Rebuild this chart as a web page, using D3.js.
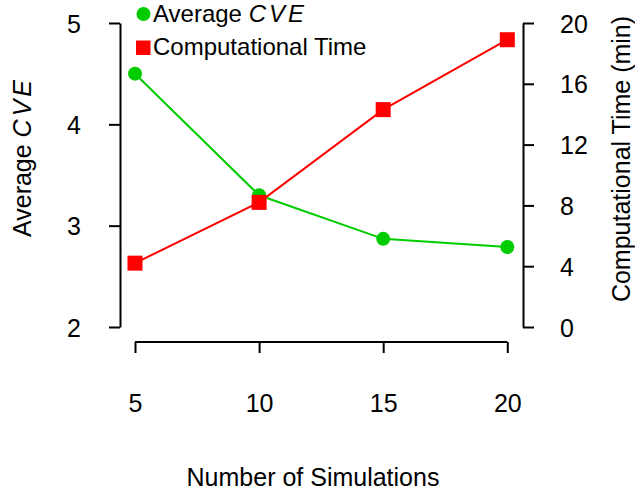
<!DOCTYPE html>
<html><head><meta charset="utf-8">
<script src="https://cdn.jsdelivr.net/npm/d3@7"></script>
<style>body{margin:0;background:#fff}text{font-family:"Liberation Sans",Arial,sans-serif;fill:#000}</style>
</head><body>
<script>
const simulations = [5, 10, 15, 20];
const avgCVE = [4.50, 3.30, 2.87, 2.79];
const compTime = [4.2, 8.2, 14.3, 18.9];
const leftTicks = [2, 3, 4, 5];
const rightTicks = [0, 4, 8, 12, 16, 20];

const W = 635, H = 498;
const svg = d3.select("body").append("svg").attr("width", W).attr("height", H);

const x = d3.scaleLinear().domain([5, 20]).range([135, 507.3]);
const yL = d3.scaleLinear().domain([2, 5]).range([327, 23]);
const yR = d3.scaleLinear().domain([0, 20]).range([327, 23]);
const green = "#00CC00", red = "#FF0000";
const fs = 25;

// x axis
const xa = svg.append("g").attr("transform", "translate(0,342)")
  .call(d3.axisBottom(x).tickValues(simulations).tickSize(11).tickPadding(0).tickSizeOuter(0).tickFormat(d3.format("d")));
xa.select(".domain").attr("d", `M${x(5)},0H${x(20)}`);
xa.selectAll("text").attr("dy", null).attr("y", 70).style("font-size", fs + "px");

// left axis
const la = svg.append("g").attr("transform", "translate(120,0)")
  .call(d3.axisLeft(yL).tickValues(leftTicks).tickSize(11).tickPadding(28).tickSizeOuter(0).tickFormat(d3.format("d")));
la.selectAll("text").style("font-size", fs + "px").attr("dy", "0.36em");

// right axis
const ra = svg.append("g").attr("transform", "translate(523,0)")
  .call(d3.axisRight(yR).tickValues(rightTicks).tickSize(11).tickPadding(26).tickSizeOuter(0).tickFormat(d3.format("d")));
ra.selectAll("text").style("font-size", fs + "px").attr("dy", "0.36em");

svg.selectAll(".domain, .tick line").attr("stroke", "#000").attr("stroke-width", 2);
svg.selectAll("path.domain").attr("fill", "none");
svg.selectAll(".tick text").attr("fill", "#000");

// lines
const lineL = d3.line().x((d, i) => x(simulations[i])).y(d => yL(d));
const lineR = d3.line().x((d, i) => x(simulations[i])).y(d => yR(d));
svg.append("path").datum(avgCVE).attr("d", lineL).attr("fill", "none").attr("stroke", green).attr("stroke-width", 2);
svg.append("path").datum(compTime).attr("d", lineR).attr("fill", "none").attr("stroke", red).attr("stroke-width", 2);
svg.selectAll("circle.pt").data(avgCVE).enter().append("circle").attr("class", "pt")
  .attr("cx", (d, i) => x(simulations[i])).attr("cy", d => yL(d)).attr("r", 7).attr("fill", green);
const sq = 15;
svg.selectAll("rect.pt").data(compTime).enter().append("rect").attr("class", "pt")
  .attr("x", (d, i) => x(simulations[i]) - sq / 2).attr("y", d => yR(d) - sq / 2)
  .attr("width", sq).attr("height", sq).attr("fill", red);

// titles
svg.append("text").attr("x", 313).attr("y", 486).attr("text-anchor", "middle")
  .style("font-size", fs + "px").text("Number of Simulations");
const lt = svg.append("text").attr("transform", "translate(31,157) rotate(-90)").attr("text-anchor", "middle")
  .style("font-size", fs + "px");
lt.append("tspan").text("Average ");
lt.append("tspan").style("font-style", "italic").attr("letter-spacing", "3px").text("CVE");
svg.append("text").attr("transform", "translate(630,159) rotate(-90)").attr("text-anchor", "middle")
  .style("font-size", fs + "px").text("Computational Time (min)");

// legend
svg.append("circle").attr("cx", 143.5).attr("cy", 14).attr("r", 7).attr("fill", green);
svg.append("rect").attr("x", 136).attr("y", 40.5).attr("width", 14.5).attr("height", 14.5).attr("fill", red);
const l1 = svg.append("text").attr("x", 153).attr("y", 21.5).style("font-size", "24px");
l1.append("tspan").text("Average ");
l1.append("tspan").style("font-style", "italic").attr("letter-spacing", "3px").text("CVE");
svg.append("text").attr("x", 153).attr("y", 55).style("font-size", "24px").text("Computational Time");
</script>
</body></html>
